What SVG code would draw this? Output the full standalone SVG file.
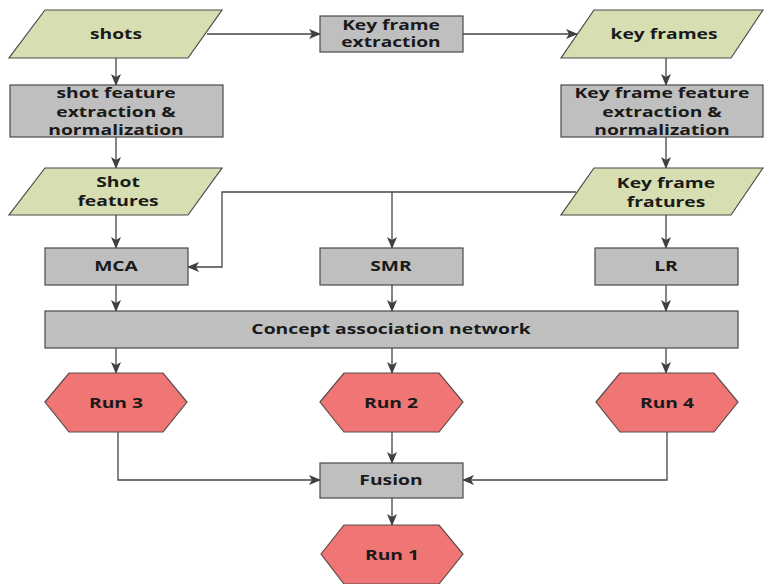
<svg xmlns="http://www.w3.org/2000/svg" width="765" height="584" viewBox="0 0 765 584">
<style>
.para{fill:#d7dfb2;stroke:#4a4a4a;stroke-width:1.2}
.box{fill:#bfbfbf;stroke:#4a4a4a;stroke-width:1.2}
.hex{fill:#f07575;stroke:#5a4a4a;stroke-width:1.2}
.ln{fill:none;stroke:#454545;stroke-width:1.3}
text{font-family:"Open Sans","DejaVu Sans",sans-serif;font-weight:bold;font-size:14.5px;fill:#1a1a1a;text-anchor:middle}
text.sm{font-size:13.5px}
</style>
<defs>
<marker id="ah" markerWidth="12" markerHeight="10" refX="11" refY="5" orient="auto" markerUnits="userSpaceOnUse">
<path d="M0,0 L12,5 L0,10 L3,5 Z" fill="#404040"/>
</marker>
</defs>
<rect width="765" height="584" fill="#ffffff"/>
<g id="connectors">
<path class="ln" d="M207,34 H320" marker-end="url(#ah)"/>
<path class="ln" d="M463,34 H577" marker-end="url(#ah)"/>
<path class="ln" d="M116,58 V85" marker-end="url(#ah)"/>
<path class="ln" d="M666,58 V85" marker-end="url(#ah)"/>
<path class="ln" d="M116,137 V168" marker-end="url(#ah)"/>
<path class="ln" d="M666,137 V168" marker-end="url(#ah)"/>
<path class="ln" d="M116,215 V248" marker-end="url(#ah)"/>
<path class="ln" d="M666,215 V248" marker-end="url(#ah)"/>
<path class="ln" d="M576,192 H222 V267 H188" marker-end="url(#ah)"/>
<path class="ln" d="M392,192 V248" marker-end="url(#ah)"/>
<path class="ln" d="M116,285 V311" marker-end="url(#ah)"/>
<path class="ln" d="M392,285 V311" marker-end="url(#ah)"/>
<path class="ln" d="M666,285 V311" marker-end="url(#ah)"/>
<path class="ln" d="M116,348 V373" marker-end="url(#ah)"/>
<path class="ln" d="M392,348 V373" marker-end="url(#ah)"/>
<path class="ln" d="M666,348 V373" marker-end="url(#ah)"/>
<path class="ln" d="M118,432 V480 H320" marker-end="url(#ah)"/>
<path class="ln" d="M667,432 V480 H463" marker-end="url(#ah)"/>
<path class="ln" d="M392,432 V463" marker-end="url(#ah)"/>
<path class="ln" d="M392,498 V525" marker-end="url(#ah)"/>
</g>
<g id="shots">
<polygon class="para" points="45,10 222,10 188,58 9,58"/>
<text transform="translate(116,39) scale(1.33,1)">shots</text>
</g>
<g id="key-frame-extraction">
<rect class="box" x="320" y="16" width="143" height="36"/>
<text class="sm" transform="translate(391,30) scale(1.42,1)">Key frame</text>
<text class="sm" transform="translate(391,47) scale(1.42,1)">extraction</text>
</g>
<g id="key-frames">
<polygon class="para" points="594,10 763,10 731,58 561,58"/>
<text transform="translate(664,39) scale(1.33,1)">key frames</text>
</g>
<g id="shot-feature-extraction">
<rect class="box" x="10" y="85" width="213" height="52"/>
<text transform="translate(116,98) scale(1.33,1)">shot feature</text>
<text transform="translate(116,117) scale(1.33,1)">extraction &amp;</text>
<text transform="translate(116,135) scale(1.33,1)">normalization</text>
</g>
<g id="key-frame-feature-extraction">
<rect class="box" x="561" y="85" width="202" height="52"/>
<text transform="translate(662,98) scale(1.33,1)">Key frame feature</text>
<text transform="translate(662,117) scale(1.33,1)">extraction &amp;</text>
<text transform="translate(662,135) scale(1.33,1)">normalization</text>
</g>
<g id="shot-features">
<polygon class="para" points="45,168 222,168 188,215 9,215"/>
<text transform="translate(118,187) scale(1.33,1)">Shot</text>
<text transform="translate(118,206) scale(1.33,1)">features</text>
</g>
<g id="key-frame-fratures">
<polygon class="para" points="594,168 763,168 731,215 561,215"/>
<text transform="translate(666,188) scale(1.33,1)">Key frame</text>
<text transform="translate(666,207) scale(1.33,1)">fratures</text>
</g>
<g id="mca">
<rect class="box" x="45" y="248" width="143" height="37"/>
<text transform="translate(116,271) scale(1.33,1)">MCA</text>
</g>
<g id="smr">
<rect class="box" x="320" y="248" width="143" height="37"/>
<text transform="translate(391,271) scale(1.33,1)">SMR</text>
</g>
<g id="lr">
<rect class="box" x="595" y="248" width="143" height="37"/>
<text transform="translate(666,271) scale(1.33,1)">LR</text>
</g>
<g id="concept-association-network">
<rect class="box" x="45" y="311" width="693" height="37"/>
<text transform="translate(391,334) scale(1.33,1)">Concept association network</text>
</g>
<g id="run3">
<polygon class="hex" points="45,402 69,373 163,373 187,402 163,432 69,432"/>
<text transform="translate(116,408) scale(1.33,1)">Run 3</text>
</g>
<g id="run2">
<polygon class="hex" points="320,402 344,373 439,373 463,402 439,432 344,432"/>
<text transform="translate(391,408) scale(1.33,1)">Run 2</text>
</g>
<g id="run4">
<polygon class="hex" points="596,402 620,373 714,373 738,402 714,432 620,432"/>
<text transform="translate(667,408) scale(1.33,1)">Run 4</text>
</g>
<g id="fusion">
<rect class="box" x="320" y="463" width="143" height="35"/>
<text transform="translate(391,485) scale(1.33,1)">Fusion</text>
</g>
<g id="run1">
<polygon class="hex" points="321,554 344,525 439,525 463,554 439,584 344,584"/>
<text transform="translate(392,560) scale(1.33,1)">Run 1</text>
</g>
</svg>
